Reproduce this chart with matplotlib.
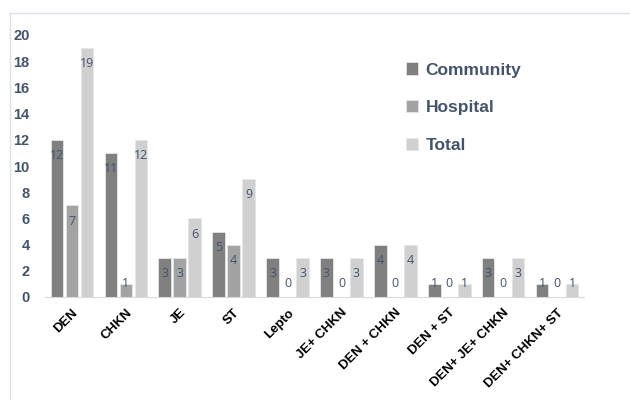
import matplotlib
matplotlib.use("Agg")
import matplotlib.pyplot as plt
from matplotlib.lines import Line2D
import numpy as np

plt.rcParams['font.family'] = ['Liberation Sans', 'DejaVu Sans']

categories = ["DEN", "CHKN", "JE", "ST", "Lepto", "JE+ CHKN", "DEN + CHKN",
              "DEN + ST", "DEN+ JE+ CHKN", "DEN+ CHKN+ ST"]
community = [12, 11, 3, 5, 3, 3, 4, 1, 3, 1]
hospital = [7, 1, 3, 4, 0, 0, 0, 0, 0, 0]
total = [19, 12, 6, 9, 3, 3, 4, 1, 3, 1]

series = [("Community", community, "#808080"),
          ("Hospital", hospital, "#a3a3a3"),
          ("Total", total, "#d0d0d0")]

label_col = "#44546a"

fig = plt.figure(figsize=(6.3, 4.0), dpi=100)
ax = fig.add_axes([45/630, 1 - 297/400, (584 - 45)/630, (297 - 35)/400])

x = np.arange(len(categories))
w = 0.235
offs = [-0.278, 0.0, 0.278]
for (name, vals, col), off in zip(series, offs):
    ax.bar(x + off, vals, w, color=col, edgecolor="#e6e6e6", linewidth=0.6, label=name)
    for xi, v in zip(x + off, vals):
        ax.text(xi, max(v - 1.2, 1.05), str(v), ha="center", va="center",
                fontsize=9, color=label_col, family=["Open Sans", "DejaVu Sans"])

ax.set_xlim(-0.5, len(categories) - 0.5)
ax.set_ylim(0, 20)
ax.set_yticks(range(0, 21, 2))
ax.tick_params(axis="y", length=0, pad=11, labelsize=10.5, labelcolor=label_col)
for t in ax.get_yticklabels():
    t.set_fontweight("bold")
ax.set_xticks(x)
ax.set_xticklabels(categories, rotation=45, ha="right", rotation_mode="anchor",
                   fontsize=9.5, fontweight="bold")
ax.tick_params(axis="x", length=0, pad=7)
for s in ["top", "right", "left"]:
    ax.spines[s].set_visible(False)
ax.spines["bottom"].set_color("#d9d9d9")

leg = ax.legend(loc="upper left", bbox_to_anchor=(0.64, 0.955), frameon=False,
                prop={"size": 12.5, "weight": "bold"}, handlelength=0.7,
                handleheight=0.7, handletextpad=0.45, labelspacing=1.3)
for t in leg.get_texts():
    t.set_color(label_col)

# outer chart frame
fig.add_artist(Line2D([10/630, 10/630], [0, 1 - 13/400], color="#dde1e8", lw=1))
fig.add_artist(Line2D([10/630, 1], [1 - 13/400, 1 - 13/400], color="#dde1e8", lw=1))

fig.savefig("out.png", dpi=100)
